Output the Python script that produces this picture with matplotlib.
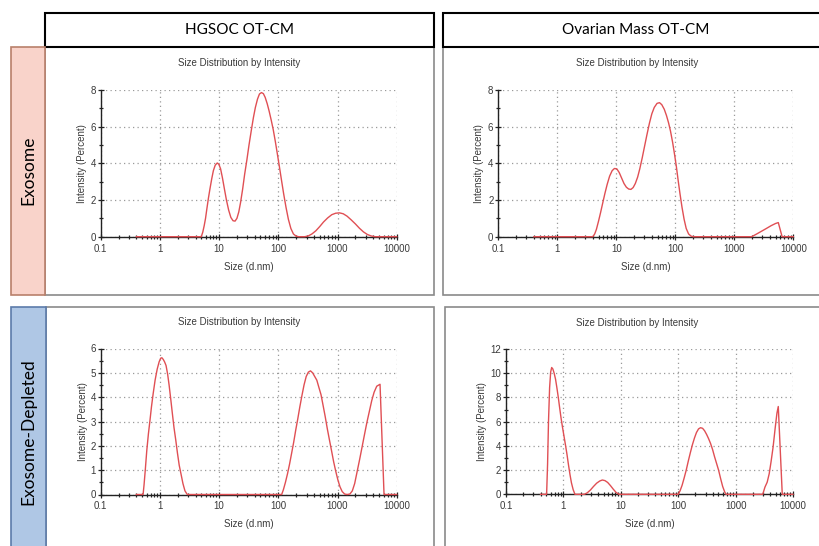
import matplotlib
matplotlib.use("Agg")
import matplotlib.pyplot as plt
from matplotlib.patches import Rectangle
from matplotlib.ticker import FixedLocator, NullFormatter

# ---------------- data ----------------
col_titles = ["HGSOC OT-CM", "Ovarian Mass OT-CM"]
row_titles = ["Exosome", "Exosome-Depleted"]
x_ticks = [0.1, 1, 10, 100, 1000, 10000]
x_tick_labels = ["0.1", "1", "10", "100", "1000", "10000"]

# HGSOC OT-CM, exosome
hgsoc_exo_size = [0.4, 5.0, 5.3, 5.6, 5.9, 6.2, 6.6, 7.0, 7.5, 8.0, 8.6, 9.3, 9.9, 10.6, 11.4,
                  12.3, 13.3, 14.5, 15.8, 17.2, 18.6, 20, 21.5, 23, 25, 27, 29.5, 32, 35, 38,
                  41, 44.5, 48, 52, 56, 60, 65, 70, 76, 82, 89, 96, 104, 113, 123, 135, 148,
                  163, 180, 200, 220, 280, 320, 370, 430, 500, 580, 680, 800, 930, 1080, 1250,
                  1450, 1700, 2000, 2350, 2750, 3200, 3700, 4300, 10000]
hgsoc_exo_int = [0, 0, 0.25, 0.6, 1.0, 1.5, 2.1, 2.6, 3.15, 3.6, 3.9, 4.02, 3.95, 3.7, 3.2,
                 2.6, 2.0, 1.45, 1.05, 0.87, 0.85, 1.0, 1.35, 1.85, 2.6, 3.4, 4.2, 5.0, 5.8, 6.5,
                 7.05, 7.5, 7.78, 7.86, 7.8, 7.6, 7.25, 6.85, 6.35, 5.85, 5.2, 4.55, 3.85, 3.1, 2.35, 1.6, 0.95,
                 0.45, 0.15, 0.03, 0, 0, 0.04, 0.15, 0.32, 0.55, 0.8, 1.02, 1.2, 1.28, 1.3, 1.25,
                 1.12, 0.92, 0.7, 0.46, 0.26, 0.12, 0.04, 0, 0]

# Ovarian Mass OT-CM, exosome
ovm_exo_size = [0.4, 4.0, 4.3, 4.6, 5.0, 5.4, 5.9, 6.4, 7.0, 7.7, 8.5, 9.3, 10.2, 11.2, 12.3,
                13.5, 14.8, 16.2, 17.7, 19.3, 21, 23, 25, 27.5, 30, 33, 36.5, 40, 44, 49, 54,
                59, 65, 71, 77, 83, 90, 97, 104, 112, 120, 130, 141, 153, 168, 185, 202,
                1970, 2400, 2900, 3500, 4200, 5000, 5570, 6460, 10000]
ovm_exo_int = [0, 0, 0.15, 0.4, 0.85, 1.3, 1.85, 2.35, 2.85, 3.3, 3.6, 3.72, 3.7, 3.5, 3.2,
               2.9, 2.7, 2.6, 2.58, 2.68, 2.9, 3.25, 3.7, 4.3, 4.9, 5.55, 6.2, 6.7, 7.05, 7.27, 7.31,
               7.2, 6.95, 6.6, 6.2, 5.75, 5.15, 4.5, 3.85, 3.05, 2.35, 1.6, 0.95, 0.45, 0.15, 0.03, 0,
               0, 0.15, 0.3, 0.45, 0.6, 0.72, 0.77, 0, 0]

# HGSOC OT-CM, exosome-depleted
hgsoc_dep_size = [0.4, 0.52, 0.54, 0.566, 0.6, 0.64, 0.68, 0.72, 0.77, 0.83, 0.9, 0.97, 1.03,
                  1.08, 1.14, 1.2, 1.27, 1.35, 1.43, 1.52, 1.62, 1.73, 1.85, 1.98, 2.12, 2.27,
                  2.45, 2.65, 2.9, 114, 122, 132, 143, 155, 168, 182, 197, 213, 231, 250, 272,
                  296, 322, 350, 380, 412, 447, 485, 527, 572, 620, 673, 730, 793, 860, 935,
                  1015, 1100, 1200, 1320, 1450, 1620, 1780, 1950, 2150, 2370, 2600, 2850, 3130,
                  3440, 3780, 4150, 4600, 5230, 6110, 10000]
hgsoc_dep_int = [0, 0, 0.4, 1.0, 1.8, 2.5, 3.05, 3.6, 4.15, 4.7, 5.15, 5.45, 5.6,
                 5.62, 5.55, 5.45, 5.3, 4.95, 4.5, 3.95, 3.35, 2.75, 2.25, 1.7, 1.2, 0.85,
                 0.45, 0.15, 0, 0, 0.2, 0.5, 0.85, 1.25, 1.7, 2.15, 2.65, 3.1, 3.6, 4.05, 4.5,
                 4.85, 5.03, 5.08, 5.0, 4.85, 4.7, 4.4, 4.1, 3.65, 3.2, 2.7, 2.25, 1.8, 1.35, 0.95,
                 0.6, 0.32, 0.12, 0.02, 0, 0.02, 0.15, 0.45, 0.95, 1.45, 1.95, 2.45, 2.95,
                 3.4, 3.85, 4.2, 4.45, 4.53, 0, 0]

# Ovarian Mass OT-CM, exosome-depleted
ovm_dep_size = [0.4, 0.51, 0.53, 0.55, 0.575, 0.6, 0.625, 0.655, 0.69, 0.73, 0.77, 0.815, 0.86,
                0.91, 0.96, 1.02, 1.08, 1.15, 1.22, 1.3, 1.38, 1.48, 1.59, 2.31, 2.6, 2.95,
                3.35, 3.8, 4.3, 4.77, 5.3, 5.9, 6.6, 7.4, 8.3, 9.3, 100, 108, 117, 127, 138,
                150, 163, 177, 192, 208, 226, 245, 266, 288, 312, 338, 366, 397, 430, 466,
                505, 548, 595, 645, 680, 2970, 3250, 3550, 3850, 4150, 4500, 4900, 5250,
                5540, 6500, 10000]
ovm_dep_int = [0, 0, 2.5, 6.0, 8.8, 10.1, 10.47, 10.35, 10.0, 9.5, 8.8, 8.0, 7.15,
               6.3, 5.6, 4.85, 4.15, 3.35, 2.5, 1.65, 0.95, 0.38, 0, 0, 0.12, 0.35,
               0.65, 0.92, 1.1, 1.18, 1.13, 0.98, 0.72, 0.42, 0.15, 0, 0, 0.3, 0.75, 1.35, 2.0,
               2.75, 3.45, 4.1, 4.65, 5.1, 5.4, 5.5, 5.45, 5.25, 4.95, 4.6, 4.2, 3.7, 3.1, 2.55,
               2.0, 1.3, 0.65, 0.2, 0, 0, 0.6, 1.0, 1.7, 2.7, 3.9, 5.5, 6.7,
               7.25, 0, 0]

panels = [
    (hgsoc_exo_size, hgsoc_exo_int, 8, 2, 1),
    (ovm_exo_size, ovm_exo_int, 8, 2, 1),
    (hgsoc_dep_size, hgsoc_dep_int, 6, 1, 0.5),
    (ovm_dep_size, ovm_dep_int, 12, 2, 1),
]

# ---------------- layout (pixels) ----------------
W, H = 819, 546
fig = plt.figure(figsize=(W / 100, H / 100), dpi=100)
fig.patch.set_facecolor("white")


def rect(x0, y0, x1, y1, fc, ec, lw):
    fig.patches.append(Rectangle((x0 / W, 1 - y1 / H), (x1 - x0) / W, (y1 - y0) / H,
                                 transform=fig.transFigure, facecolor=fc, edgecolor=ec,
                                 linewidth=lw, clip_on=False, zorder=-10))


# panel boxes
panel_boxes = [(45, 47.3, 434, 295), (443, 47.3, 830, 295),
               (45.7, 307, 434, 560), (445, 307, 830, 560)]
for b in panel_boxes:
    rect(*b, fc="white", ec="#8a8a8a", lw=1.2)

# header boxes
header_boxes = [(45, 12.7, 434, 47.3), (443, 12.7, 830, 47.3)]
header_cx = [239.5, 636]
for b, t, cx in zip(header_boxes, col_titles, header_cx):
    rect(*b, fc="white", ec="black", lw=1.5)
    fig.text(cx / W, 1 - 30.5 / H, t, ha="center", va="center",
             fontsize=11, family="Lato", color="black")

# row label boxes
rect(11, 47.3, 45, 295, fc="#F9D3CA", ec="#B9806B", lw=1.2)
rect(11, 307, 45.7, 556, fc="#AFC7E5", ec="#5C7BAA", lw=1.2)
fig.text(28.3 / W, 1 - 170 / H, row_titles[0], rotation=90, ha="center", va="center",
         fontsize=12.5, family="Lato", color="black")
fig.text(28.3 / W, 1 - 431.7 / H, row_titles[1], rotation=90, ha="center", va="center",
         fontsize=12.5, family="Lato", color="black")

# axes rectangles (pixels: x0, x1, ytop, ybottom), titles centred on panel box
axes_px = [(100.7, 396.7, 90, 236.7), (498.3, 793.3, 90, 236.7),
           (100.7, 396.7, 348.5, 494.5), (506, 793, 349, 494.3)]
title_pos = [(239.5, 63.3), (637, 63.3), (239.5, 322.0), (637, 323.3)]
xlabel_y = [266.7, 266.7, 524.3, 524.3]
ylabel_x = [81.7, 479, 82.7, 481.7]

txt_color = "#3a3a3a"
FS = 7
tick_font = dict(family="Liberation Sans", size=FS, color=txt_color)
minor_x = [m * 10.0 ** e for e in range(-1, 4) for m in range(2, 10)]

for i, (sz, it, ymax, ystep, ymin_step) in enumerate(panels):
    x0, x1, yt, yb = axes_px[i]
    ax = fig.add_axes([x0 / W, 1 - yb / H, (x1 - x0) / W, (yb - yt) / H])
    ax.set_facecolor("none")
    ax.plot(sz, it, color="#E04F54", lw=1.0, zorder=3, clip_on=False,
            solid_joinstyle="round", antialiased=True)
    ax.set_xscale("log")
    ax.set_xlim(0.1, 10000)
    ax.set_ylim(0, ymax)
    ax.set_xticks(x_ticks, x_tick_labels)
    ax.xaxis.set_minor_locator(FixedLocator(minor_x))
    ax.xaxis.set_minor_formatter(NullFormatter())
    yt_major = list(range(0, ymax + 1, ystep))
    ax.set_yticks(yt_major, [str(v) for v in yt_major])
    nmin = int(round(ymax / ymin_step))
    ax.yaxis.set_minor_locator(FixedLocator([k * ymin_step for k in range(nmin + 1)]))
    for s in ("top", "right"):
        ax.spines[s].set_visible(False)
    for s in ("left", "bottom"):
        ax.spines[s].set_color("#222222")
        ax.spines[s].set_linewidth(1.0)
    ax.grid(True, which="major", linestyle=(0, (1, 2.6)), color="#9a9a9a", lw=0.9)
    ax.tick_params(axis="both", which="major", direction="inout", length=4, width=0.9,
                   colors="#222222", labelcolor=txt_color, labelsize=FS, pad=1.5)
    ax.tick_params(axis="x", which="major", pad=3)
    ax.tick_params(axis="both", which="minor", direction="inout", length=2.5, width=0.9,
                   colors="#222222")
    for lab in ax.get_xticklabels() + ax.get_yticklabels():
        lab.set_family("Liberation Sans")
    # texts
    tx, ty = title_pos[i]
    fig.text(tx / W, 1 - ty / H, "Size Distribution by Intensity", ha="center", va="center",
             **tick_font)
    fig.text(((x0 + x1) / 2) / W, 1 - xlabel_y[i] / H, "Size (d.nm)", ha="center",
             va="center", **tick_font)
    fig.text(ylabel_x[i] / W, 1 - ((yt + yb) / 2) / H, "Intensity (Percent)", rotation=90,
             ha="center", va="center", **tick_font)

fig.savefig("out.png", dpi=100, facecolor="white")
